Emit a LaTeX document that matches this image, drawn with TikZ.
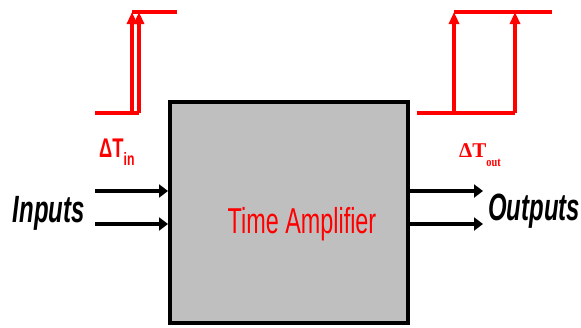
\documentclass[tikz,border=0pt]{standalone}
\usepackage{fontspec}
\usepackage{graphicx}
\setmainfont{Liberation Serif}
\setsansfont{Liberation Sans}
\usetikzlibrary{arrows.meta,positioning}

\begin{document}
\begin{tikzpicture}[x=1pt, y=-1pt,
        wave/.style={draw=red, line width=3.8pt},
        edge/.style={wave, -{Triangle[length=12pt,width=10pt]}},
        sig/.style={line width=4pt, -{Triangle[length=9pt,width=13pt]}},
        port/.style={inner sep=0pt, font=\sffamily\bfseries\itshape\fontsize{38}{38}\selectfont}]
    \useasboundingbox (0,0) rectangle (581,327);
    \node[draw, line width=4pt, fill=black!25, inner sep=0pt,
          minimum width=238pt, minimum height=221pt] (amp) at (289,212.5) {};
    \node[anchor=base, inner sep=0pt, text=red,
          font=\sffamily\fontsize{36}{36}\selectfont] (title) at (302,233)
          {\scalebox{0.65}[1]{Time Amplifier}};
    \coordinate (in1) at (95,191);
    \coordinate (in2) at (95,224);
    \coordinate (out1) at (483,191);
    \coordinate (out2) at (483,224);
    \draw[sig] (in1) -- (in1 -| amp.west);
    \draw[sig] (in2) -- (in2 -| amp.west);
    \draw[sig] (out1 -| amp.east) -- (out1);
    \draw[sig] (out2 -| amp.east) -- (out2);
    \node[port, anchor=base east] (inputs) at (85,222) {\scalebox{0.63}[1]{Inputs}};
    \node[port, anchor=base west] (outputs) at (488,220) {\scalebox{0.63}[1]{Outputs}};
    \draw[wave] (95,113) -- (139,113);
    \draw[edge] (132,113) -- (132,12);
    \draw[edge] (139,113) -- (139,12);
    \draw[wave] (132,12) -- (177,12);
    \draw[wave] (417,113) -- (515,113);
    \draw[edge] (454,113) -- (454,12);
    \draw[edge] (515,113) -- (515,12);
    \draw[wave] (454,12) -- (552,12);
    \node[anchor=base west, inner sep=0pt, text=red,
          font=\sffamily\bfseries\fontsize{27}{27}\selectfont] (dtin) at (99,157)
          {\scalebox{0.68}[1]{ΔT\raisebox{-8pt}{\fontsize{18}{18}\selectfont in}}};
    \node[anchor=base west, inner sep=0pt, text=red,
          font=\bfseries\fontsize{21}{21}\selectfont] (dtout) at (459,157)
          {ΔT\raisebox{-9pt}{\fontsize{13}{13}\selectfont\scalebox{0.8}[1]{out}}};
\end{tikzpicture}
\end{document}
